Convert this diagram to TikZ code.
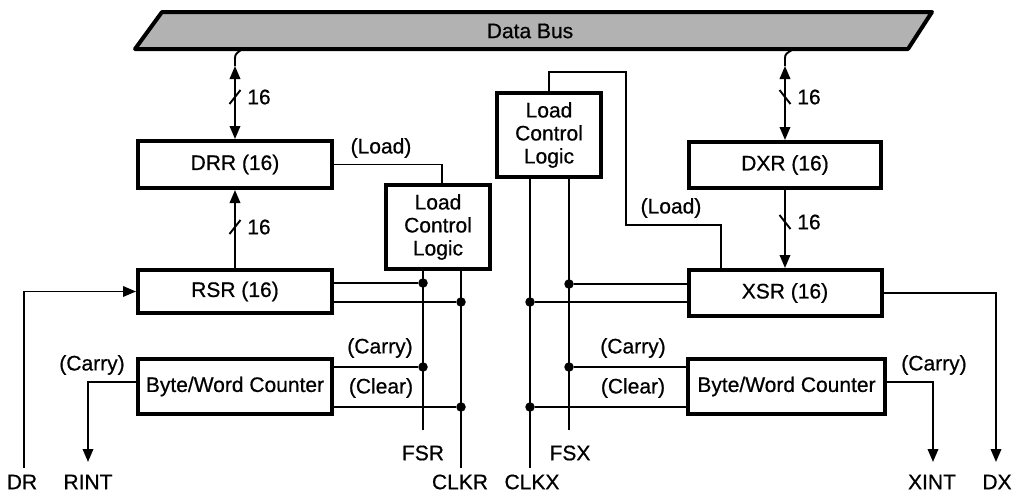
\documentclass[tikz,border=0pt]{standalone}
\usepackage{fontspec}
\setmainfont[FakeBold=0.6]{Liberation Sans}
\usetikzlibrary{arrows.meta,calc}
\begin{document}
\begin{tikzpicture}[x=1pt,y=-1pt,
  every node/.style={font=\fontsize{21}{23}\selectfont, inner sep=0pt},
  box/.style={draw, line width=4pt, align=center},
  wire/.style={line width=1.9pt},
  tip/.style={-{Triangle[length=13pt,width=10.5pt]}},
  tips/.style={{Triangle[length=13pt,width=10.5pt]}-{Triangle[length=13pt,width=10.5pt]}},
  dot/.style={circle, fill, minimum size=9.5pt, inner sep=0pt}]
\useasboundingbox (0,0) rectangle (1012,493);

% Data bus
\draw[line width=4pt, line join=round, fill=black!30] (135,49) -- (162,12) -- (932,12) -- (908,49) -- cycle;
\node (bus) at (530,31) {Data Bus};

% boxes
\node[box, minimum width=194, minimum height=47] (DRR) at (235,164.5) {DRR (16)};
\node[box, minimum width=194, minimum height=43] (RSR) at (235,291.5) {RSR (16)};
\node[box, minimum width=194, minimum height=55] (BWCL) at (235,386.5) {Byte/Word Counter};
\node[box, minimum width=104, minimum height=84] (LCLL) at (438,227) {Load\\Control\\Logic};
\node[box, minimum width=104, minimum height=84] (LCLR) at (549,135) {Load\\Control\\Logic};
\node[box, minimum width=192, minimum height=46] (DXR) at (785,165) {DXR (16)};
\node[box, minimum width=193, minimum height=46] (XSR) at (785,293) {XSR (16)};
\node[box, minimum width=197, minimum height=55] (BWCR) at (786.5,386.5) {Byte/Word Counter};

% bus to DRR
\coordinate (bL) at (241,50);
\coordinate (aL) at (235,66);
\draw[wire] (bL) .. controls (237,53) and (235,54) .. (235,58) -- (aL);
\draw[wire,tips] (aL) -- (DRR.north);
\draw[wire] (229.5,104) -- (240.5,90);
\node (n16a) at (259,97) {16};

% RSR to DRR
\draw[wire,tip] (RSR.north) -- (DRR.south);
\draw[wire] (229.5,234) -- (240.5,220);
\node (n16b) at (259,227) {16};

% bus to DXR
\coordinate (bR) at (792,50);
\coordinate (aR) at (785,66);
\draw[wire] (bR) .. controls (787,53) and (785,54) .. (785,58) -- (aR);
\draw[wire,tips] (aR) -- (DXR.north);
\draw[wire] (779.5,90) -- (790.5,104);
\node (n16c) at (809,97) {16};

% DXR to XSR
\draw[wire,tip] (DXR.south) -- (XSR.north);
\draw[wire] (779.5,215) -- (790.5,229);
\node (n16d) at (809,222) {16};

% left load
\draw[wire] (DRR.east) -| ([xshift=4]LCLL.north);
\node (loadL) at (381,148) {(Load)};

% left control lines
\coordinate (fsr) at (423,430);
\coordinate (clkr) at (461,468);
\draw[wire] (LCLL.south -| fsr) -- (fsr);
\draw[wire] (LCLL.south -| clkr) -- (clkr);
\node[dot] (d1) at (423,283) {};
\node[dot] (d2) at (461,302) {};
\node[dot] (d3) at (423,367) {};
\node[dot] (d4) at (461,407) {};
\draw[wire] (RSR.east |- d1) -- (d1);
\draw[wire] (RSR.east |- d2) -- (d2);
\draw[wire] (BWCL.east |- d3) -- (d3);
\draw[wire] (BWCL.east |- d4) -- (d4);
\node (lFSR) at (423,453) {FSR};
\node (lCLKR) at (460,482) {CLKR};
\node (carryL) at (380,348) {(Carry)};
\node (clearL) at (381,388) {(Clear)};

% DR input
\coordinate (dr) at (24,468);
\draw[wire,tip] (dr) |- (RSR.west);
\node (lDR) at (22,482) {DR};

% RINT
\coordinate (rint) at (88,462);
\draw[wire,tip] ([yshift=4.5]BWCL.west) -| (rint);
\node (lRINT) at (88,482) {RINT};
\node (carryRI) at (92,365) {(Carry)};

% right load
\coordinate (ld) at (721,225);
\draw[wire] (LCLR.north) |- (626,72) |- (ld) -- (ld |- XSR.north);
\node (loadR) at (671,208) {(Load)};

% right control lines
\coordinate (clkx) at (530,468);
\coordinate (fsx) at (569,430);
\draw[wire] (LCLR.south -| clkx) -- (clkx);
\draw[wire] (LCLR.south -| fsx) -- (fsx);
\node[dot] (d5) at (569,284) {};
\node[dot] (d6) at (530,302) {};
\node[dot] (d7) at (569,367) {};
\node[dot] (d8) at (530,407) {};
\draw[wire] (d5) -- (XSR.west |- d5);
\draw[wire] (d6) -- (XSR.west |- d6);
\draw[wire] (d7) -- (BWCR.west |- d7);
\draw[wire] (d8) -- (BWCR.west |- d8);
\node (lCLKX) at (532,482) {CLKX};
\node (lFSX) at (570,453) {FSX};
\node (carryR) at (633,348) {(Carry)};
\node (clearR) at (633,388) {(Clear)};

% XINT
\coordinate (xint) at (933,462);
\draw[wire,tip] ([yshift=4.5]BWCR.east) -| (xint);
\node (carryXI) at (934,365) {(Carry)};
\node (lXINT) at (932,482) {XINT};

% DX
\coordinate (dx) at (996,462);
\draw[wire,tip] (XSR.east) -| (dx);
\node (lDX) at (997,482) {DX};
\end{tikzpicture}
\end{document}
